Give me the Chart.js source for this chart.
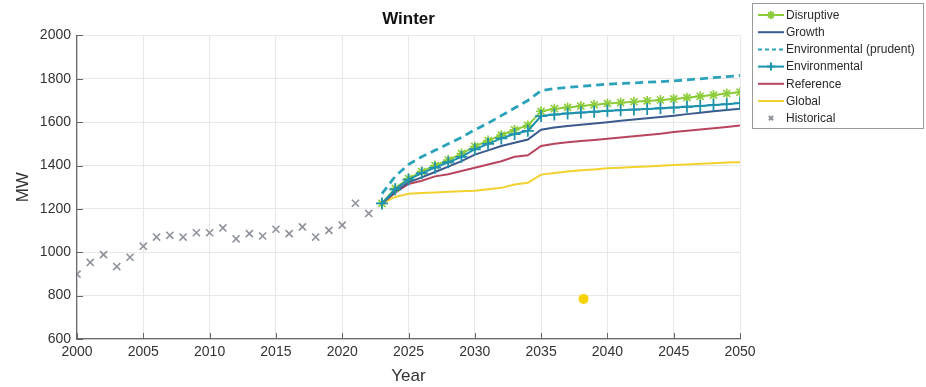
<!DOCTYPE html>
<html>
<head>
<meta charset="utf-8">
<script src="https://cdn.jsdelivr.net/npm/chart.js@4.4.1/dist/chart.umd.min.js"></script>
<style>
  html, body { margin: 0; padding: 0; background: #fff; }
  #wrap { width: 926px; height: 387px; position: relative; }
</style>
</head>
<body>
<div id="wrap"><canvas id="c" width="926" height="387"></canvas></div>
<script>
// Historical winter peak demand, 2000-2022
const histYears = [2000,2001,2002,2003,2004,2005,2006,2007,2008,2009,2010,2011,2012,2013,2014,2015,2016,2017,2018,2019,2020,2021,2022];
const historical = [899,953,989,934,977,1028,1070,1078,1070,1090,1090,1112,1062,1086,1075,1106,1086,1117,1070,1101,1125,1226,1179];

// Scenario projections, 2023-2050
const scenYears = [2023,2024,2025,2026,2027,2028,2029,2030,2031,2032,2033,2034,2035,2036,2037,2038,2039,2040,2041,2042,2043,2044,2045,2046,2047,2048,2049,2050];
const disruptive = [1225,1295,1340,1372,1400,1425,1455,1488,1515,1540,1565,1585,1650,1662,1668,1674,1680,1686,1690,1694,1698,1702,1707,1713,1719,1725,1732,1738];
const growth = [1225,1280,1322,1345,1370,1395,1420,1450,1470,1490,1505,1520,1565,1575,1582,1588,1594,1600,1606,1612,1618,1624,1630,1637,1643,1650,1656,1662];
const envPrudent = [1270,1350,1405,1440,1470,1500,1530,1565,1595,1630,1665,1700,1745,1755,1760,1765,1770,1775,1778,1781,1784,1787,1790,1795,1800,1805,1810,1815];
const environmental = [1225,1290,1335,1365,1390,1415,1440,1475,1500,1525,1545,1560,1628,1635,1640,1644,1648,1652,1655,1658,1661,1664,1667,1671,1675,1679,1683,1688];
const reference = [1225,1275,1315,1330,1350,1360,1375,1390,1405,1420,1440,1447,1490,1500,1507,1513,1518,1523,1529,1535,1541,1547,1554,1560,1566,1572,1578,1584];
const globalScen = [1225,1255,1270,1273,1276,1279,1281,1284,1290,1297,1312,1320,1358,1366,1372,1378,1382,1387,1390,1393,1396,1399,1402,1405,1408,1411,1414,1415];

// Lone yellow dot sitting inside the plot area
const loneDot = [{ x: 2038.2, y: 785 }];

// Axis ticks
const xTicks = [2000,2005,2010,2015,2020,2025,2030,2035,2040,2045,2050];
const yTicks = [600,800,1000,1200,1400,1600,1800,2000];

const pts = (xs, ys) => xs.map((x, i) => ({ x: x, y: ys[i] }));

const FONT = "'Liberation Sans', Arial, sans-serif";

const datasets = [
  { label: 'Disruptive', data: pts(scenYears, disruptive), borderColor: '#8ccc3a', backgroundColor: '#8ccc3a',
    borderWidth: 2, pointStyle: 'star', pointRadius: 5, pointBorderWidth: 1.6, order: 6 },
  { label: 'Growth', data: pts(scenYears, growth), borderColor: '#3b5a8e', backgroundColor: '#3b5a8e',
    borderWidth: 2, pointRadius: 0, order: 5 },
  { label: 'Environmental (prudent)', data: pts(scenYears, envPrudent), borderColor: '#2aa3bb', backgroundColor: '#2aa3bb',
    borderWidth: 2.8, borderDash: [8, 5], pointRadius: 0, order: 4 },
  { label: 'Environmental', data: pts(scenYears, environmental), borderColor: '#1f93ad', backgroundColor: '#1f93ad',
    borderWidth: 2, pointStyle: 'cross', pointRadius: 6, pointBorderWidth: 1.8, order: 3 },
  { label: 'Reference', data: pts(scenYears, reference), borderColor: '#b8445e', backgroundColor: '#b8445e',
    borderWidth: 2, pointRadius: 0, order: 7 },
  { label: 'Global', data: pts(scenYears, globalScen), borderColor: '#f3d12e', backgroundColor: '#f3d12e',
    borderWidth: 2, pointRadius: 0, order: 8 },
  { label: 'Historical', data: pts(histYears, historical), borderColor: '#8d929b', backgroundColor: '#8d929b',
    showLine: false, pointStyle: 'crossRot', pointRadius: 5, pointBorderWidth: 1.6, order: 2 },
  { label: '_dot', data: loneDot, borderColor: '#f7d300', backgroundColor: '#f7d300',
    showLine: false, pointStyle: 'circle', pointRadius: 5, pointBorderWidth: 0, order: 1 }
];

// Legend box drawn on the canvas, right of the axes
const boxLegend = {
  id: 'boxLegend',
  afterDraw(chart) {
    const ctx = chart.ctx;
    const x0 = 752, y0 = 3, w = 171, h = 125;
    ctx.save();
    ctx.fillStyle = '#fff';
    ctx.fillRect(x0, y0, w, h);
    ctx.strokeStyle = '#9a9a9a';
    ctx.lineWidth = 1;
    ctx.strokeRect(x0 + 0.5, y0 + 0.5, w, h);
    const items = chart.data.datasets.filter(d => d.label[0] !== '_');
    const rowH = 17.2;
    items.forEach((ds, i) => {
      const y = y0 + 12 + i * rowH;
      const lx0 = x0 + 6, lx1 = x0 + 32;
      ctx.strokeStyle = ds.borderColor;
      ctx.lineWidth = Math.min(ds.borderWidth || 2, 2);
      if (ds.showLine !== false) {
        ctx.setLineDash(ds.borderDash ? [4, 3] : []);
        ctx.beginPath(); ctx.moveTo(lx0, y); ctx.lineTo(lx1, y); ctx.stroke();
        ctx.setLineDash([]);
      }
      if (ds.pointRadius > 0) {
        Chart.helpers.drawPoint(ctx, {
          pointStyle: ds.pointStyle, rotation: 0,
          radius: ds.label === 'Historical' ? 3 : 4,
          borderWidth: 1.3
        }, (lx0 + lx1) / 2, y);
      }
      ctx.fillStyle = '#2a2a2a';
      ctx.font = '12px ' + FONT;
      ctx.textBaseline = 'middle';
      ctx.fillText(ds.label, lx1 + 2, y + 0.5);
    });
    ctx.restore();
  }
};

// Inward tick marks on both axes
const innerTicks = {
  id: 'innerTicks',
  afterDatasetsDraw(chart) {
    const { ctx, chartArea: a, scales: { x, y } } = chart;
    ctx.save();
    ctx.strokeStyle = '#666';
    ctx.lineWidth = 1;
    ctx.beginPath();
    xTicks.forEach(t => {
      const px = Math.round(x.getPixelForValue(t)) + 0.5;
      ctx.moveTo(px, a.bottom); ctx.lineTo(px, a.bottom - 6);
    });
    yTicks.forEach(t => {
      const py = Math.round(y.getPixelForValue(t)) + 0.5;
      ctx.moveTo(a.left, py); ctx.lineTo(a.left + 6, py);
    });
    ctx.stroke();
    ctx.restore();
  }
};

new Chart(document.getElementById('c'), {
  type: 'line',
  data: { datasets: datasets },
  options: {
    responsive: false,
    animation: false,
    layout: { padding: { left: 0, right: 186, top: 0, bottom: 0 } },
    elements: { line: { tension: 0 } },
    plugins: {
      legend: { display: false },
      tooltip: { enabled: false },
      title: {
        display: true, text: 'Winter', fullSize: false, color: '#111',
        font: { family: FONT, size: 17, weight: 'bold' },
        padding: { top: 9, bottom: 6 }
      }
    },
    scales: {
      x: {
        type: 'linear', min: 2000, max: 2050,
        afterBuildTicks: s => { s.ticks = xTicks.map(v => ({ value: v })); },
        afterFit: s => { s.height = 48; },
        grid: { color: '#e8e8e8', drawTicks: false },
        border: { color: '#6a6a6a', width: 1.2 },
        ticks: { color: '#333', font: { family: FONT, size: 14 }, padding: 5, maxRotation: 0, callback: v => String(v) },
        title: { display: true, text: 'Year', color: '#333', font: { family: FONT, size: 17 }, padding: { top: 1, bottom: 0 } }
      },
      y: {
        min: 600, max: 2000,
        afterBuildTicks: s => { s.ticks = yTicks.map(v => ({ value: v })); },
        afterFit: s => { s.width = 77; },
        grid: { color: '#e8e8e8', drawTicks: false },
        border: { color: '#6a6a6a', width: 1.2 },
        ticks: { color: '#333', font: { family: FONT, size: 14 }, padding: 6, callback: v => String(v) },
        title: { display: true, text: 'MW', color: '#333', font: { family: FONT, size: 17 }, padding: { top: 13, bottom: 2 } }
      }
    }
  },
  plugins: [innerTicks, boxLegend]
});
</script>
</body>
</html>
